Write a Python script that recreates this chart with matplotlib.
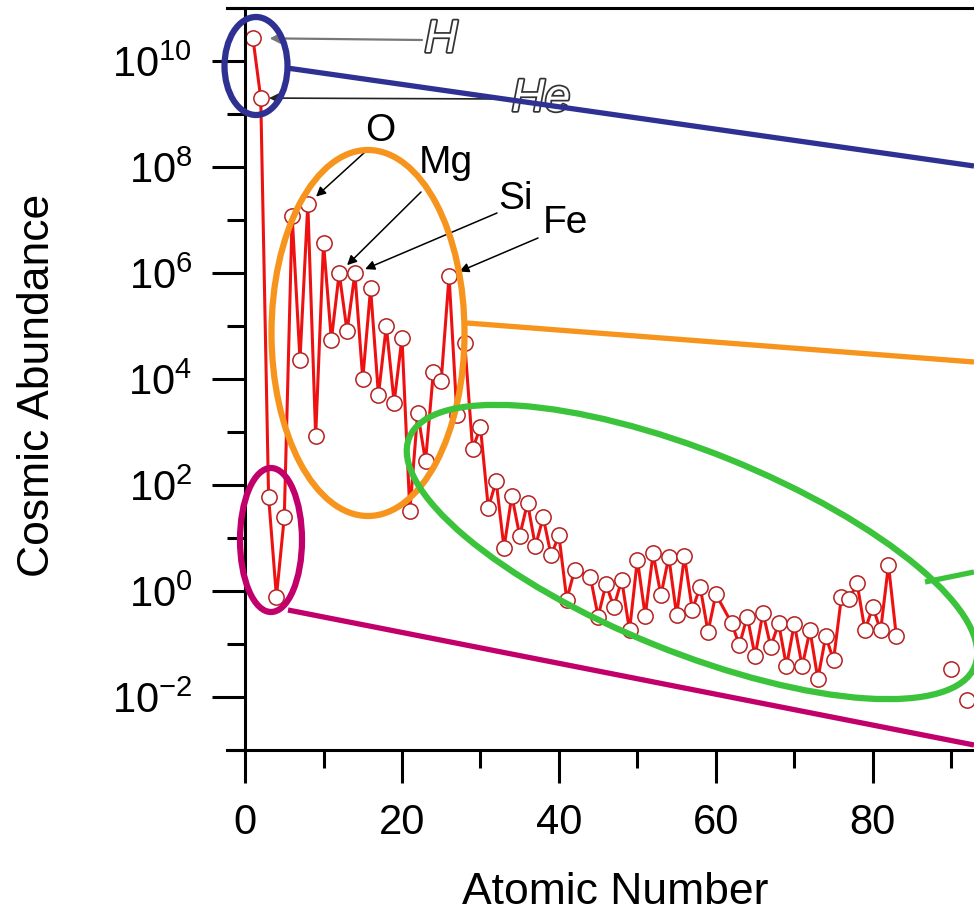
import numpy as np
import matplotlib
matplotlib.use('Agg')
import matplotlib.pyplot as plt
import matplotlib.transforms as mtransforms
import matplotlib.patheffects as pe
from matplotlib.patches import Ellipse
from matplotlib.lines import Line2D
from matplotlib.ticker import NullFormatter

W, H, DPI = 974, 913, 100

# atomic numbers with measured abundances (Tc and Pm have none)
z = list(range(1, 43)) + list(range(44, 61)) + list(range(62, 84))
abund = [
    2.7e10, 2.0e9, 60, 0.78, 25, 1.2e7, 2.3e4, 2.0e7, 830, 3.7e6,        # H - Ne
    5.5e4, 1.0e6, 8.0e4, 9.8e5, 1.0e4, 5.1e5, 5.0e3, 1.0e5, 3.6e3, 6.0e4, # Na - Ca
    32, 2.3e3, 280, 1.35e4, 9.3e3, 8.8e5, 2.1e3, 4.8e4, 480, 1.23e3,      # Sc - Zn
    37, 118, 6.5, 63, 11, 46, 7.0, 24.5, 4.7, 11.2,                       # Ga - Zr
    0.69, 2.5,                                                            # Nb, Mo
    1.86, 0.33, 1.35, 0.50, 1.62, 0.18, 3.9, 0.34, 5.1, 0.83,             # Ru - I
    4.4, 0.35, 4.5, 0.44, 1.2, 0.17, 0.87,                                # Xe - Nd
    0.25, 0.095, 0.33, 0.059, 0.39, 0.089, 0.245, 0.038, 0.24, 0.038,     # Sm - Lu
    0.18, 0.022, 0.14, 0.050, 0.76, 0.70, 1.4, 0.18, 0.50, 0.18,          # Hf - Tl
    3.1, 0.14,                                                            # Pb, Bi
]
z_heavy = [90, 92]
abund_heavy = [0.034, 0.0087]

xticks = [0, 20, 40, 60, 80]
xticks_minor = [10, 30, 50, 70, 90]
yticks = [10.0 ** k for k in range(-2, 11, 2)]
yticks_minor = [10.0 ** k for k in range(-3, 12, 2)]

plt.rcParams['font.family'] = ['Liberation Sans', 'DejaVu Sans']
plt.rcParams['axes.unicode_minus'] = False

fig = plt.figure(figsize=(W / DPI, H / DPI), dpi=DPI)
ax = fig.add_axes([227 / W, 1 - 750 / H, 1 - 227 / W, (750 - 8) / H])

style = dict(color='#ee1111', lw=2.2, marker='o', ms=11,
             mfc='white', mec='#b52020', mew=1.1)
ax.plot(z, abund, **style)
ax.plot(z_heavy, abund_heavy, linestyle='none', **style)

ax.set_yscale('log')
ax.set_ylim(1e-3, 1e11)
ax.set_xlim(-2.3, 92.9)
ax.set_xticks(xticks)
ax.set_xticks(xticks_minor, minor=True)
ax.set_yticks(yticks)
ax.set_yticks(yticks_minor, minor=True)
ax.yaxis.set_minor_formatter(NullFormatter())

ax.spines['left'].set_position(('data', 0))
ax.spines['right'].set_visible(False)
for s in ['left', 'bottom', 'top']:
    ax.spines[s].set_linewidth(2.2)
ax.tick_params(which='major', length=24, width=2.2, labelsize=30)
ax.tick_params(axis='x', which='major', pad=14)
ax.tick_params(axis='y', which='major', pad=14)
ax.tick_params(which='minor', length=13, width=2.2)
ax.tick_params(top=False, right=False, which='both')

ax.set_xlabel('Atomic Number', fontsize=32)
ax.xaxis.set_label_coords(0.519, -0.164)
ax.set_ylabel('Cosmic Abundance', fontsize=32)
ax.yaxis.set_label_coords(-0.226, 0.492)

# overlay drawn in pixel coordinates, y going down
img = mtransforms.Affine2D().scale(1 / DPI, -1 / DPI).translate(0, H / DPI) + fig.dpi_scale_trans


def val(n):
    return abund[z.index(n)]


# element call-outs
outline = [pe.withStroke(linewidth=2.5, foreground='#333333')]
ax.annotate('', xy=(1, val(1)), xytext=(422, 40), textcoords=img,
            arrowprops=dict(arrowstyle='-|>', color='#777777', lw=1.6,
                            shrinkA=0, shrinkB=12, mutation_scale=16))
ax.annotate('', xy=(2, val(2)), xytext=(508, 99), textcoords=img,
            arrowprops=dict(arrowstyle='-|>', color='#222222', lw=1.2,
                            shrinkA=0, shrinkB=6, mutation_scale=14))
fig.text(441, 40, 'H', transform=img, fontsize=33, style='italic', color='white',
         ha='center', va='center', path_effects=outline, zorder=0.5)
fig.text(541, 99, 'He', transform=img, fontsize=33, style='italic', color='white',
         ha='center', va='center', path_effects=outline, zorder=0.5)

callouts = [
    ('O', 8, (380, 131), (365, 152)),
    ('Mg', 12, (446, 163), (421, 192)),
    ('Si', 14, (516, 199), (497, 213)),
    ('Fe', 26, (565, 223), (538, 238)),
]
for name, n, txt, start in callouts:
    ax.annotate('', xy=(n, val(n)), xytext=start, textcoords=img,
                arrowprops=dict(arrowstyle='-|>', color='black', lw=1.1,
                                shrinkA=0, shrinkB=8, mutation_scale=14))
    fig.text(txt[0], txt[1], name, transform=img, fontsize=28,
             ha='center', va='center', zorder=0.5)

# highlight rings and their leader lines
rings = [
    ((256, 66), 63, 98, 0, '#2e3192'),
    ((368, 333), 193, 366, 0, '#f7941d'),
    ((692, 552), 610, 200, 22, '#3bc43b'),
    ((271, 540), 62, 144, 0, '#c2006b'),
]
for c, w, h, ang, col in rings:
    fig.add_artist(Ellipse(c, w, h, angle=ang, transform=img, fill=False,
                           edgecolor=col, lw=4.5))

leaders = [
    ((287, 974), (68, 166), '#2e3192'),
    ((467, 974), (323, 362), '#f7941d'),
    ((925, 974), (582, 572), '#3bc43b'),
    ((288, 974), (610, 745), '#c2006b'),
]
for xs, ys, col in leaders:
    fig.add_artist(Line2D(xs, ys, transform=img, color=col, lw=3.8,
                          solid_capstyle='butt'))

fig.savefig('out.png', dpi=DPI)
